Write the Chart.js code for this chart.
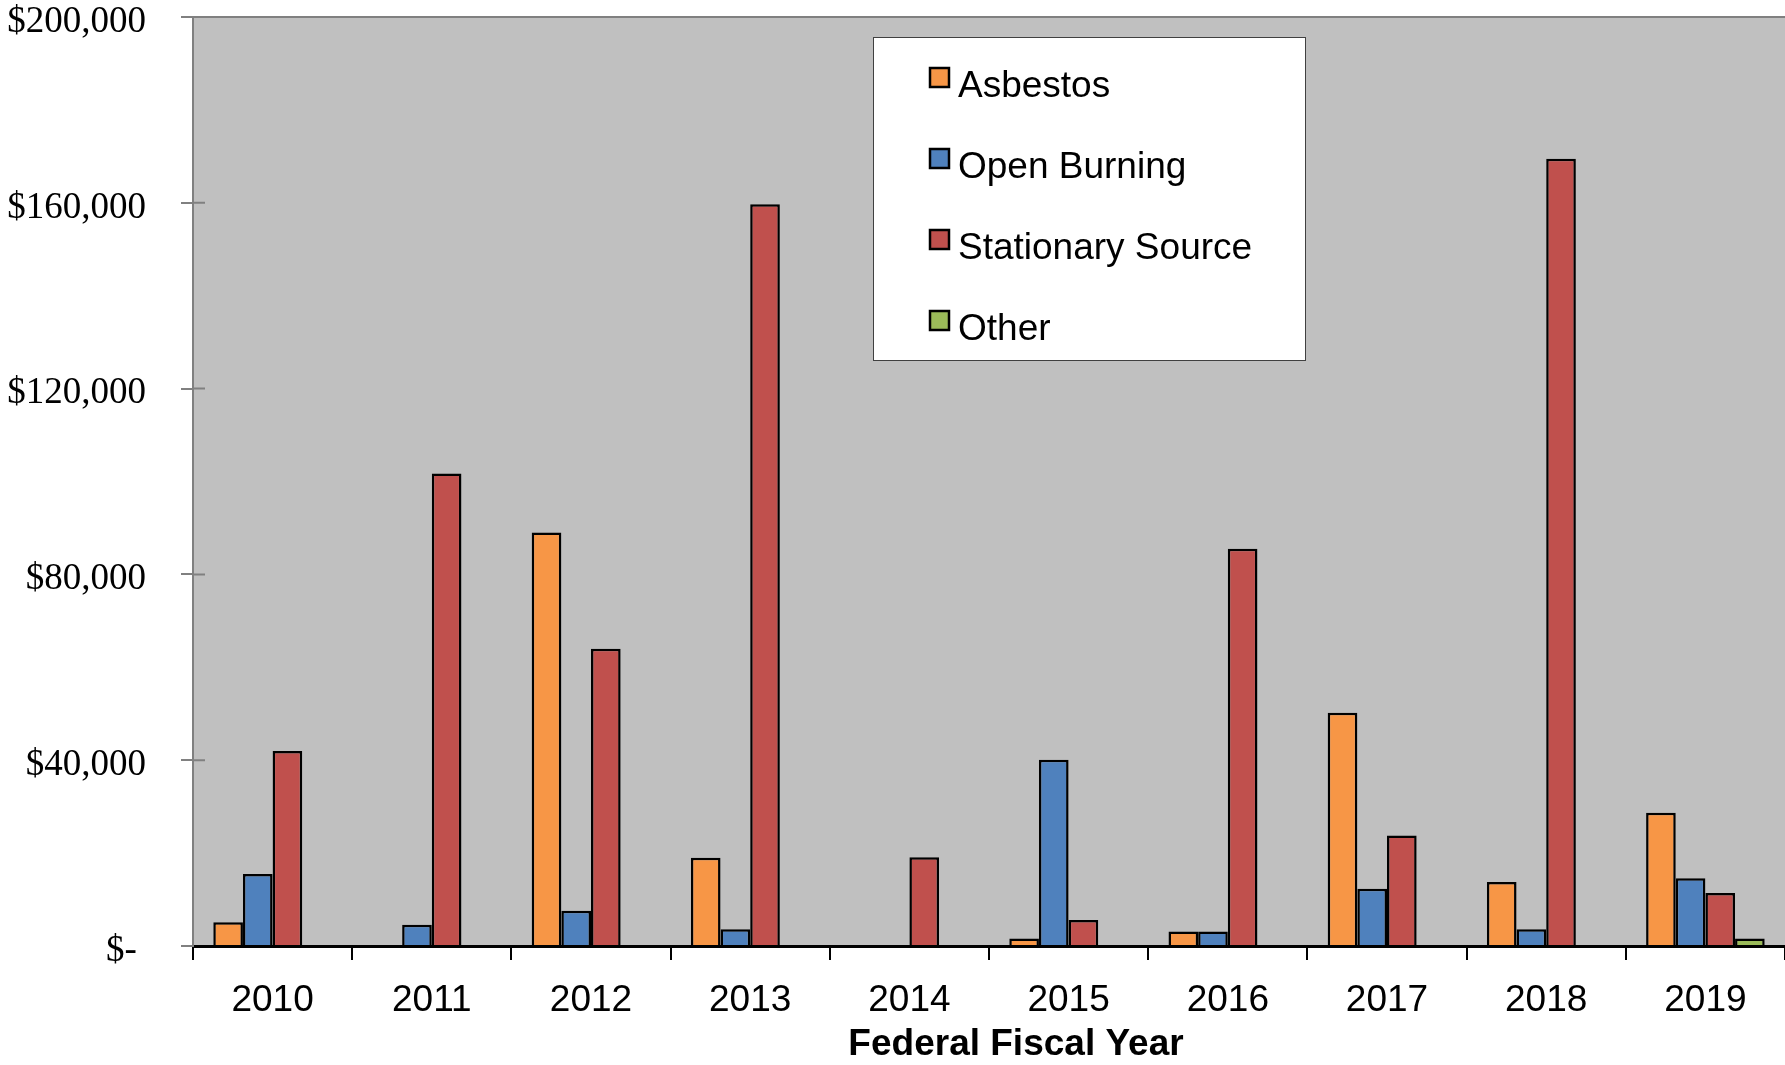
<!DOCTYPE html>
<html>
<head>
<meta charset="utf-8">
<script src="https://cdn.jsdelivr.net/npm/chart.js@4.4.0/dist/chart.umd.min.js"></script>
<style>
    html, body { margin: 0; padding: 0; background: #fff; }
    #wrap { width: 1785px; height: 1065px; }
</style>
</head>
<body>
<div id="wrap"><canvas id="chart" width="1785" height="1065"></canvas></div>
<script>
// --- Data ---
const years = ['2010', '2011', '2012', '2013', '2014', '2015', '2016', '2017', '2018', '2019'];
const asbestos = [5100, 0, 89000, 19000, 0, 1600, 3100, 50200, 13800, 28700];
const openBurning = [15500, 4600, 7600, 3600, 0, 40100, 3100, 12300, 3600, 14600];
const stationarySource = [42000, 101700, 64000, 159700, 19100, 5600, 85500, 23800, 169500, 11400];
const other = [0, 0, 0, 0, 0, 0, 0, 0, 0, 1600];
const yTickLabels = ['$- ', '$40,000', '$80,000', '$120,000', '$160,000', '$200,000'];
const xAxisTitle = 'Federal Fiscal Year';

const SANS = '"Liberation Sans", Arial, sans-serif';
const SERIF = '"Liberation Serif", "Times New Roman", serif';

// --- Plugins ---
// gray plot area, top border and the inner half of the y tick marks
const plotBackground = {
    id: 'plotBackground',
    beforeDraw(chart) {
        const { ctx, chartArea: a } = chart;
        ctx.save();
        ctx.fillStyle = '#c0c0c0';
        ctx.fillRect(a.left, a.top, a.right - a.left, a.bottom - a.top);
        ctx.strokeStyle = '#808080';
        ctx.lineWidth = 2;
        ctx.beginPath();
        ctx.moveTo(a.left - 12, a.top);
        ctx.lineTo(a.right, a.top);
        chart.scales.y.ticks.forEach(t => {
            const y = chart.scales.y.getPixelForValue(t.value);
            if (t.value > 0 && t.value < 200000) {
                ctx.moveTo(a.left, y);
                ctx.lineTo(a.left + 12, y);
            }
        });
        ctx.stroke();
        ctx.restore();
    }
};

// boxed legend inside the plot, plus the x axis title (sits a bit right of centre)
const boxLegend = {
    id: 'boxLegend',
    afterDraw(chart) {
        const ctx = chart.ctx;
        const a = chart.chartArea;
        ctx.save();
        ctx.fillStyle = '#fff';
        ctx.fillRect(873, 37, 432, 323);
        ctx.strokeStyle = '#404040';
        ctx.lineWidth = 1;
        ctx.strokeRect(873.5, 37.5, 432, 323);
        ctx.font = '37px ' + SANS;
        ctx.textBaseline = 'alphabetic';
        chart.data.datasets.forEach((ds, i) => {
            const y = 67 + i * 81;
            ctx.fillStyle = ds.backgroundColor;
            ctx.fillRect(929, y, 20, 20);
            ctx.strokeStyle = '#000';
            ctx.lineWidth = 2.5;
            ctx.strokeRect(930, y + 1, 19, 19);
            ctx.fillStyle = '#000';
            ctx.fillText(ds.label, 958, y + 30);
        });

        ctx.font = 'bold 37px ' + SANS;
        ctx.textAlign = 'center';
        ctx.textBaseline = 'middle';
        ctx.fillText(xAxisTitle, (a.left + a.right) / 2 + 27, 1045);
        ctx.restore();
    }
};

function makeSeries(label, data, color) {
    return {
        label: label,
        data: data,
        backgroundColor: color,
        borderColor: '#000',
        borderWidth: 2.5,
        barPercentage: 1,
        categoryPercentage: 0.745
    };
}

// --- Chart ---
new Chart(document.getElementById('chart'), {
    type: 'bar',
    data: {
        labels: years,
        datasets: [
            makeSeries('Asbestos', asbestos, '#f79646'),
            makeSeries('Open Burning', openBurning, '#4f81bd'),
            makeSeries('Stationary Source', stationarySource, '#c0504d'),
            makeSeries('Other', other, '#9bbb59')
        ]
    },
    options: {
        responsive: false,
        animation: false,
        layout: { padding: { top: 17, right: 0, bottom: 0, left: 0 } },
        plugins: {
            legend: { display: false },
            tooltip: { enabled: false }
        },
        scales: {
            x: {
                grid: { offset: true, drawOnChartArea: false, tickLength: 14, color: '#000', lineWidth: 2 },
                border: { color: '#000', width: 3 },
                ticks: { color: '#000', font: { family: SANS, size: 37 }, padding: 19, maxRotation: 0 },
                afterFit(scale) {
                    scale.height = 119;
                    scale.paddingLeft = 0;
                    scale.paddingRight = 0;
                }
            },
            y: {
                min: 0,
                max: 200000,
                ticks: {
                    stepSize: 40000,
                    color: '#000',
                    font: { family: SERIF, size: 37 },
                    padding: 35,
                    labelOffset: 5,
                    callback: (value, index) => yTickLabels[index]
                },
                grid: { drawOnChartArea: false, tickLength: 12, color: '#808080', lineWidth: 2 },
                border: { color: '#808080', width: 2 },
                afterFit(scale) {
                    scale.width = 193;
                    scale.paddingTop = 0;
                    scale.paddingBottom = 0;
                }
            }
        }
    },
    plugins: [plotBackground, boxLegend]
});
</script>
</body>
</html>
